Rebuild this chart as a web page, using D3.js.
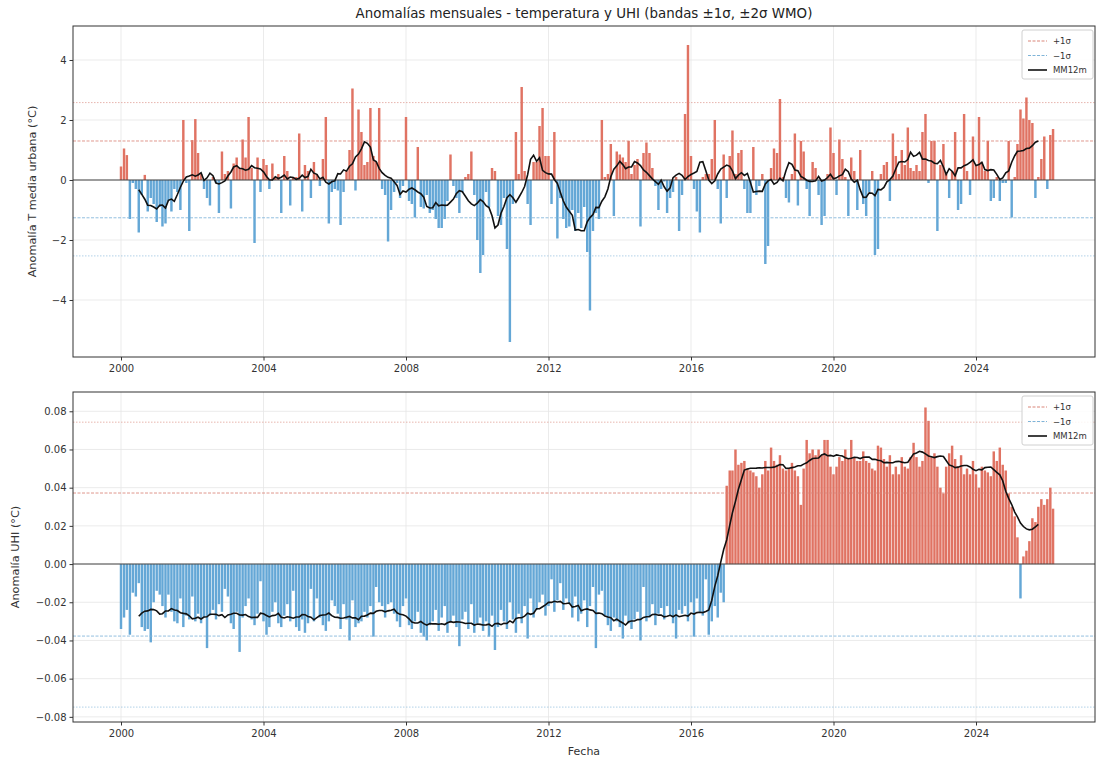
<!DOCTYPE html>
<html><head><meta charset="utf-8">
<script src="https://cdn.jsdelivr.net/npm/d3@7"></script>
<style>
body{margin:0;background:#fff;}
svg{display:block;}
text{font-family:"DejaVu Sans",sans-serif;}
</style>
</head><body>
<svg id="chart" width="1096" height="760"></svg>
<script>
// ---------------- DATA ----------------
const firstMonth = [2000, 0];           // Jan 2000, monthly series
const tempAnomaly = [
 0.45,1.05,0.83,-1.3,-0.1,-0.3,-1.75,-0.5,0.17,-1.05,-0.6,-0.8,
 -1.4,-0.9,-1.55,-1.45,-0.7,-1.05,-0.3,-0.4,-1.0,2.0,-0.1,-1.7,
 1.33,2.03,0.9,0.2,-0.3,-0.6,-0.85,0.1,-0.1,-1.1,0.95,0.2,
 0.3,-0.95,0.55,0.75,0.4,1.35,0.75,2.1,0.4,-2.1,0.75,-0.4,
 0.7,0.5,-0.3,0.55,0.1,0.2,-1.1,0.8,0.3,-0.85,0.1,0.1,
 1.55,-1.05,0.5,0.3,-0.6,0.6,0.2,-0.2,0.7,2.1,-1.45,-0.4,
 -0.3,-0.35,-1.5,-0.4,0.3,1.0,3.05,-0.35,2.35,1.6,0.5,0.6,
 2.4,0.8,0.6,2.4,-0.3,-0.5,-2.05,-1.0,-0.4,-0.1,-0.6,-0.2,
 2.1,-0.7,-0.8,-1.25,1.1,-0.9,-0.95,-0.5,-1.1,-1.0,-1.3,-1.6,
 -1.6,-1.3,-0.7,0.85,-0.2,-0.6,-1.1,-0.4,0.1,0.2,0.95,-0.5,
 -2.0,-3.1,-2.5,-0.4,-0.9,0.4,0.3,-1.2,-1.5,-0.6,-2.3,-5.4,
 -0.8,1.6,0.2,3.1,0.3,-0.8,-1.5,0.6,0.6,1.8,2.4,0.8,
 0.8,-0.8,1.6,-1.95,-0.6,-1.3,-1.6,-1.55,-1.0,-1.7,-1.1,-1.6,
 -0.9,-2.4,-4.35,-1.7,-1.1,-1.3,2.0,0.1,0.2,1.2,-1.2,0.95,
 0.85,0.75,0.6,1.3,0.2,0.5,0.7,-1.55,0.9,1.25,0.9,0.4,
 -0.2,-1.0,-0.3,-0.05,-1.1,-0.6,-0.4,0.1,-1.7,-0.5,2.2,4.5,
 0.8,-0.3,-1.05,-1.75,0.1,0.2,0.2,0.7,2.0,-0.3,-1.45,0.85,
 -0.6,0.8,1.65,0.2,0.9,1.0,-0.3,-1.1,-1.1,1.1,-0.5,-0.2,
 0.2,-2.8,-2.2,0.4,1.05,0.9,2.7,0.1,-0.6,-0.75,0.2,1.55,
 -0.85,1.3,0.95,-0.3,-1.2,0.6,0.4,-0.5,-1.5,-1.2,0.2,1.75,
 0.9,-0.5,1.35,0.7,0.1,-1.2,0.75,0.3,-1.0,1.0,-0.8,-1.2,
 -0.4,0.3,-2.5,-2.3,0.2,0.5,0.6,-0.7,1.55,0.8,0.2,1.0,
 0.5,1.75,0.4,0.3,0.5,0.3,1.6,2.2,-0.1,1.3,1.3,-1.7,
 0.5,1.2,0.2,-0.6,0.3,1.6,-1.0,-0.8,2.2,0.3,-0.5,1.45,
 0.5,2.1,0.6,0.3,1.3,-0.7,-0.6,0.1,-0.7,-0.1,-0.1,1.3,
 -1.25,0.1,1.2,2.35,2.05,2.75,2.0,1.9,-0.6,0.1,0.7,1.45,
 -0.3,1.5,1.7
];
const uhiAnomaly = [
 -0.034,-0.028,-0.024,-0.037,-0.015,-0.017,-0.010,-0.033,-0.035,-0.034,-0.041,-0.020,
 -0.014,-0.016,-0.022,-0.028,-0.016,-0.025,-0.030,-0.031,-0.018,-0.033,-0.027,-0.029,
 -0.017,-0.030,-0.026,-0.031,-0.028,-0.044,-0.027,-0.024,-0.029,-0.021,-0.025,-0.013,
 -0.017,-0.031,-0.034,-0.025,-0.046,-0.028,-0.022,-0.018,-0.029,-0.032,-0.026,-0.009,
 -0.030,-0.037,-0.033,-0.025,-0.020,-0.031,-0.033,-0.027,-0.021,-0.030,-0.014,-0.033,
 -0.035,-0.029,-0.036,-0.031,-0.013,-0.030,-0.018,-0.028,-0.032,-0.035,-0.030,-0.019,
 -0.022,-0.026,-0.034,-0.021,-0.029,-0.040,-0.019,-0.033,-0.031,-0.030,-0.025,-0.028,
 -0.022,-0.038,-0.012,-0.020,-0.022,-0.028,-0.021,-0.020,-0.026,-0.030,-0.033,-0.022,
 -0.018,-0.032,-0.034,-0.030,-0.025,-0.036,-0.038,-0.040,-0.032,-0.030,-0.024,-0.035,
 -0.028,-0.022,-0.036,-0.030,-0.027,-0.033,-0.043,-0.029,-0.025,-0.034,-0.021,-0.036,
 -0.031,-0.028,-0.035,-0.030,-0.038,-0.027,-0.045,-0.033,-0.024,-0.030,-0.034,-0.020,
 -0.029,-0.036,-0.026,-0.031,-0.022,-0.039,-0.018,-0.028,-0.024,-0.020,-0.016,-0.027,
 -0.022,-0.008,-0.025,-0.019,-0.010,-0.024,-0.018,-0.021,-0.028,-0.017,-0.030,-0.026,
 -0.019,-0.033,-0.022,-0.012,-0.044,-0.016,-0.014,-0.027,-0.032,-0.035,-0.028,-0.030,
 -0.033,-0.039,-0.027,-0.031,-0.034,-0.029,-0.025,-0.040,-0.012,-0.030,-0.028,-0.021,
 -0.032,-0.026,-0.023,-0.029,-0.022,-0.027,-0.031,-0.039,-0.024,-0.026,-0.022,-0.030,
 -0.020,-0.038,-0.018,-0.025,-0.027,-0.008,-0.037,-0.030,-0.022,-0.028,-0.015,-0.020,
 0.041,0.049,0.049,0.060,0.052,0.053,0.054,0.050,0.049,0.048,0.046,0.040,
 0.047,0.054,0.049,0.061,0.054,0.052,0.057,0.050,0.049,0.050,0.053,0.049,
 0.046,0.031,0.050,0.065,0.058,0.060,0.057,0.060,0.057,0.065,0.065,0.051,
 0.047,0.051,0.056,0.054,0.060,0.055,0.065,0.056,0.054,0.054,0.059,0.054,
 0.053,0.050,0.049,0.062,0.061,0.055,0.051,0.057,0.047,0.051,0.047,0.056,
 0.051,0.050,0.056,0.0635,0.056,0.051,0.054,0.082,0.075,0.056,0.058,0.051,
 0.040,0.037,0.051,0.058,0.062,0.055,0.051,0.057,0.047,0.050,0.047,0.054,
 0.047,0.040,0.051,0.049,0.048,0.046,0.059,0.054,0.061,0.052,0.049,0.037,
 0.030,0.025,0.014,-0.018,0.004,0.007,0.012,0.024,0.022,0.030,0.034,0.031,
 0.034,0.040,0.029
];
const tempBands = [2.58, 1.30, -1.26, -2.53];        // +2σ, +1σ, −1σ, −2σ
const uhiBands  = [0.0743, 0.0372, -0.0377, -0.0749];
const bandKinds = ["+2", "+1", "-1", "-2"];
const yearTicks = [2000, 2004, 2008, 2012, 2016, 2020, 2024];
const tempTicks = [-4, -2, 0, 2, 4];
const uhiTicks  = [-0.08, -0.06, -0.04, -0.02, 0, 0.02, 0.04, 0.06, 0.08];
const legendLabels = ["+1σ", "−1σ", "MM12m"];
const titleText = "Anomalías mensuales - temperatura y UHI (bandas ±1σ, ±2σ WMO)";

// ---------------- STYLE ----------------
const RED = "#e07363", BLUE = "#64a7d6";
const W = 1096, H = 760;
const L = 73, R = 1095;
const panels = [
  {top: 26, bottom: 357, vals: tempAnomaly, bands: tempBands, ticks: tempTicks,
   dom: [-5.9, 5.133], fmt: d3.format("d"), ylabel: "Anomalía T media urbana (°C)", ylx: 36, showXLabel: false},
  {top: 392, bottom: 722, vals: uhiAnomaly, bands: uhiBands, ticks: uhiTicks,
   dom: [-0.0827, 0.0901], fmt: d3.format(".2f"), ylabel: "Anomalía UHI (°C)", ylx: 19, showXLabel: true}
];

const svg = d3.select("#chart");
svg.append("rect").attr("width", W).attr("height", H).attr("fill", "#fff");

const dates = d3.range(tempAnomaly.length).map(i => new Date(firstMonth[0], firstMonth[1] + i, 1));
const xBase = d3.scaleTime().domain([new Date(2000,0,1), new Date(2024,0,1)]).range([121, 976]);
const x = d3.scaleTime().domain([xBase.invert(L), xBase.invert(R)]).range([L, R]);
const barW = x(new Date(2000,0,26)) - x(new Date(2000,0,1));

function rolling(vals) {
  const n = vals.length, out = [];
  for (let i = 6; i <= n - 6; i++) {
    out.push({d: dates[i], v: d3.mean(vals.slice(i - 6, i + 6))});
  }
  return out;
}

svg.append("text").attr("x", (L + R) / 2).attr("y", 18).attr("text-anchor", "middle")
  .attr("font-size", 13.4).attr("fill", "#222").text(titleText);

panels.forEach((p, pi) => {
  const y = d3.scaleLinear().domain(p.dom).range([p.bottom, p.top]);
  const g = svg.append("g");
  const clipId = "clip" + pi;
  svg.append("clipPath").attr("id", clipId).append("rect")
    .attr("x", L).attr("y", p.top).attr("width", R - L).attr("height", p.bottom - p.top);

  // grid
  g.selectAll(".gx").data(yearTicks).join("line")
    .attr("x1", d => x(new Date(d,0,1))).attr("x2", d => x(new Date(d,0,1)))
    .attr("y1", p.top).attr("y2", p.bottom).attr("stroke", "#e6e6e6").attr("stroke-width", 0.8);
  g.selectAll(".gy").data(p.ticks).join("line")
    .attr("x1", L).attr("x2", R).attr("y1", d => y(d)).attr("y2", d => y(d))
    .attr("stroke", "#e6e6e6").attr("stroke-width", 0.8);

  // bars
  const gb = g.append("g").attr("clip-path", `url(#${clipId})`);
  gb.selectAll("rect").data(p.vals).join("rect")
    .attr("x", (d, i) => x(dates[i]) - barW / 2)
    .attr("width", barW)
    .attr("y", d => y(Math.max(0, d)))
    .attr("height", d => Math.abs(y(d) - y(0)))
    .attr("fill", d => d >= 0 ? RED : BLUE);

  // sigma bands
  g.selectAll(".band").data(p.bands).join("line")
    .attr("x1", L).attr("x2", R).attr("y1", d => y(d)).attr("y2", d => y(d))
    .attr("stroke", (d, i) => bandKinds[i][0] === "+" ? "#d98579" : "#7fb4d8")
    .attr("stroke-opacity", (d, i) => bandKinds[i].endsWith("2") ? 0.6 : 0.85)
    .attr("stroke-width", 1)
    .attr("stroke-dasharray", (d, i) => bandKinds[i].endsWith("2") ? "1.5,1.5" : "3,1.5");

  // zero line
  g.append("line").attr("x1", L).attr("x2", R).attr("y1", y(0)).attr("y2", y(0))
    .attr("stroke", "#444").attr("stroke-width", 1.1);

  // rolling mean
  g.append("path").datum(rolling(p.vals))
    .attr("d", d3.line().x(d => x(d.d)).y(d => y(d.v)))
    .attr("fill", "none").attr("stroke", "#111").attr("stroke-width", 1.6);

  // frame
  g.append("rect").attr("x", L).attr("y", p.top).attr("width", R - L).attr("height", p.bottom - p.top)
    .attr("fill", "none").attr("stroke", "#333").attr("stroke-width", 1);

  // axes
  const xa = g.append("g").attr("transform", `translate(0,${p.bottom})`)
    .call(d3.axisBottom(x).tickValues(yearTicks.map(yy => new Date(yy,0,1)))
      .tickFormat(d3.timeFormat("%Y")).tickSize(3.5).tickPadding(4));
  const ya = g.append("g").attr("transform", `translate(${L},0)`)
    .call(d3.axisLeft(y).tickValues(p.ticks).tickFormat(p.fmt).tickSize(3.5).tickPadding(3));
  [xa, ya].forEach(a => {
    a.select(".domain").remove();
    a.selectAll("line").attr("stroke", "#333");
    a.selectAll("text").attr("font-size", 10).attr("fill", "#333").attr("font-family", "DejaVu Sans, sans-serif");
  });

  // y label
  svg.append("text").attr("transform", `translate(${p.ylx},${(p.top + p.bottom) / 2}) rotate(-90)`)
    .attr("text-anchor", "middle").attr("font-size", 11.3).attr("fill", "#333").text(p.ylabel);
  if (p.showXLabel) {
    svg.append("text").attr("x", (L + R) / 2).attr("y", 755).attr("text-anchor", "middle")
      .attr("font-size", 11).attr("fill", "#333").text("Fecha");
  }

  // legend
  const lg = g.append("g").attr("transform", `translate(1022,${p.top + 4})`);
  lg.append("rect").attr("width", 71).attr("height", 49).attr("rx", 2)
    .attr("fill", "#fff").attr("fill-opacity", 0.85).attr("stroke", "#d0d0d0");
  legendLabels.forEach((lab, i) => {
    const yy = 11 + i * 14.5;
    lg.append("line").attr("x1", 6).attr("x2", 25).attr("y1", yy).attr("y2", yy)
      .attr("stroke", i === 0 ? "#d98579" : i === 1 ? "#7fb4d8" : "#111")
      .attr("stroke-width", i === 2 ? 1.6 : 1)
      .attr("stroke-dasharray", i === 2 ? null : "3,1.5");
    lg.append("text").attr("x", 31).attr("y", yy + 3).attr("font-size", 8.5).attr("fill", "#333").text(lab);
  });
});
</script>
</body></html>
